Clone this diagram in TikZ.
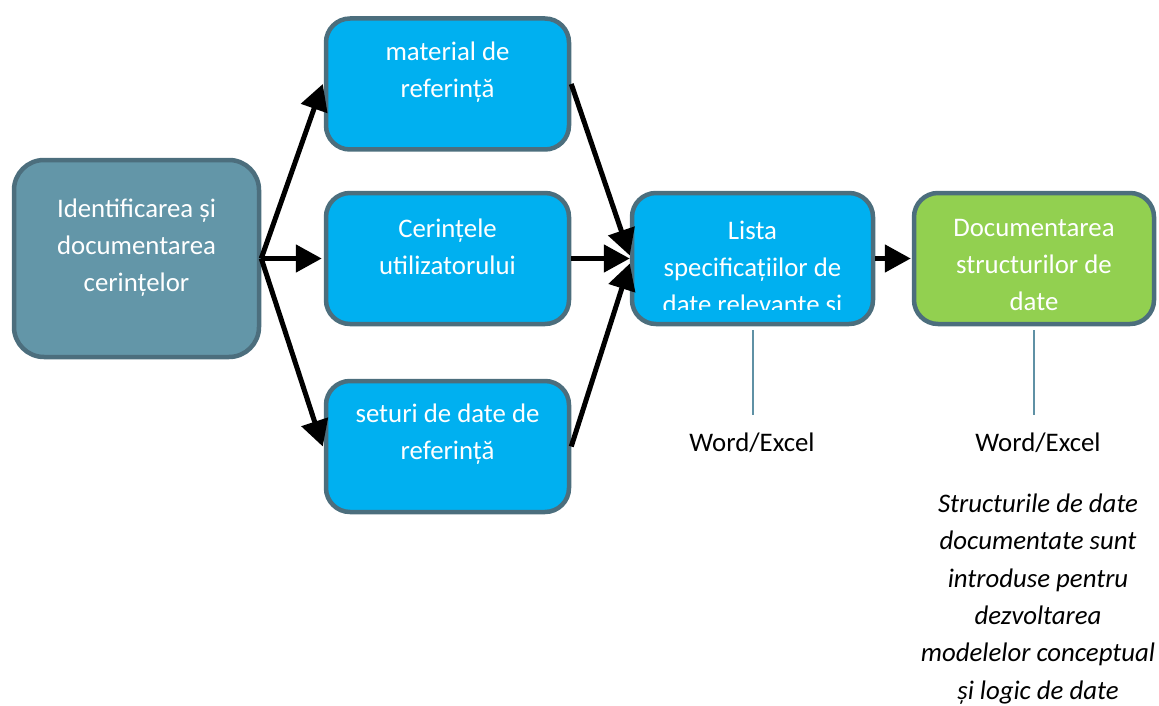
\documentclass[tikz,border=0pt]{standalone}
\usepackage{fontspec}
\setmainfont{Carlito}
\usetikzlibrary{arrows.meta,calc}
\definecolor{boxblue}{RGB}{0,176,240}
\definecolor{boxgreen}{RGB}{146,208,80}
\definecolor{boxgray}{RGB}{99,150,168}
\definecolor{edgec}{RGB}{76,110,125}
\definecolor{stemc}{RGB}{95,145,165}
\begin{document}
\begin{tikzpicture}[x=1pt,y=-1pt,
  box/.style={draw=edgec, line width=4.5pt, rounded corners=24pt, minimum width=243pt, minimum height=131pt, inner sep=0pt},
  txt/.style={text=white, align=center, font=\fontsize{26.8}{37}\selectfont},
  lbl/.style={align=center, font=\fontsize{26.8}{37.5}\selectfont},
  arr/.style={line width=5pt, -{Triangle[length=26pt,width=27pt]}},
  stem/.style={draw=stemc, line width=2pt}]
\useasboundingbox (0,0) rectangle (1159,706);
% boxes
\node[box, fill=boxgray, minimum width=245pt, minimum height=197pt, rounded corners=30pt] (L) at (136.5,258.5) {};
\node[box, fill=boxblue] (M) at (447.5,84) {};
\node[box, fill=boxblue] (C) at (447.5,258.5) {};
\node[box, fill=boxblue] (S) at (447.5,446.5) {};
\node[box, fill=boxblue, minimum width=241pt] (Li) at (752.5,258.5) {};
\node[box, fill=boxgreen, minimum width=240pt] (D) at (1034,258.5) {};
% box texts
\node[txt] (tL) at (136.5,248) {Identificarea și\\documentarea\\cerințelor};
\node[txt] (tM) at (447.5,72) {material de\\referință};
\node[txt] (tC) at (447.5,247) {Cerințele\\utilizatorului};
\node[txt] (tS) at (447.5,434) {seturi de date de\\referință};
\begin{scope}
\clip (630,190) rectangle (876,309);
\node[txt] (tLi) at (752.5,267) {Lista\\specificațiilor de\\date relevante si};
\end{scope}
\node[txt] (tD) at (1034,265) {Documentarea\\structurilor de\\date};
% arrows
\draw[arr] (L.east) -- ($(M.west)+(-1,0)$);
\draw[arr] (L.east) -- ($(C.west)+(-2,0)$);
\draw[arr] (L.east) -- ($(S.west)+(-1,0)$);
\draw[arr] (M.east) -- ($(Li.west)+(0,-3)$);
\draw[arr] (C.east) -- ($(Li.west)+(0,0)$);
\draw[arr] (S.east) -- ($(Li.west)+(0,5)$);
\draw[arr] (Li.east) -- ($(D.west)+(-1,0)$);
% stems and labels
\coordinate (s1) at (752.5,415);
\coordinate (s2) at (1034,415);
\draw[stem] ($(Li.south)+(0,4)$) -- (s1);
\draw[stem] ($(D.south)+(0,4)$) -- (s2);
\node[lbl] (w1) at (752,443) {Word/Excel};
\node[lbl] (w2) at (1038,443) {Word/Excel};
\node[lbl, font=\fontsize{26.8}{37.4}\selectfont\itshape] (note) at (1038,599) {Structurile de date\\documentate sunt\\introduse pentru\\dezvoltarea\\modelelor conceptual\\și logic de date};
\end{tikzpicture}
\end{document}
